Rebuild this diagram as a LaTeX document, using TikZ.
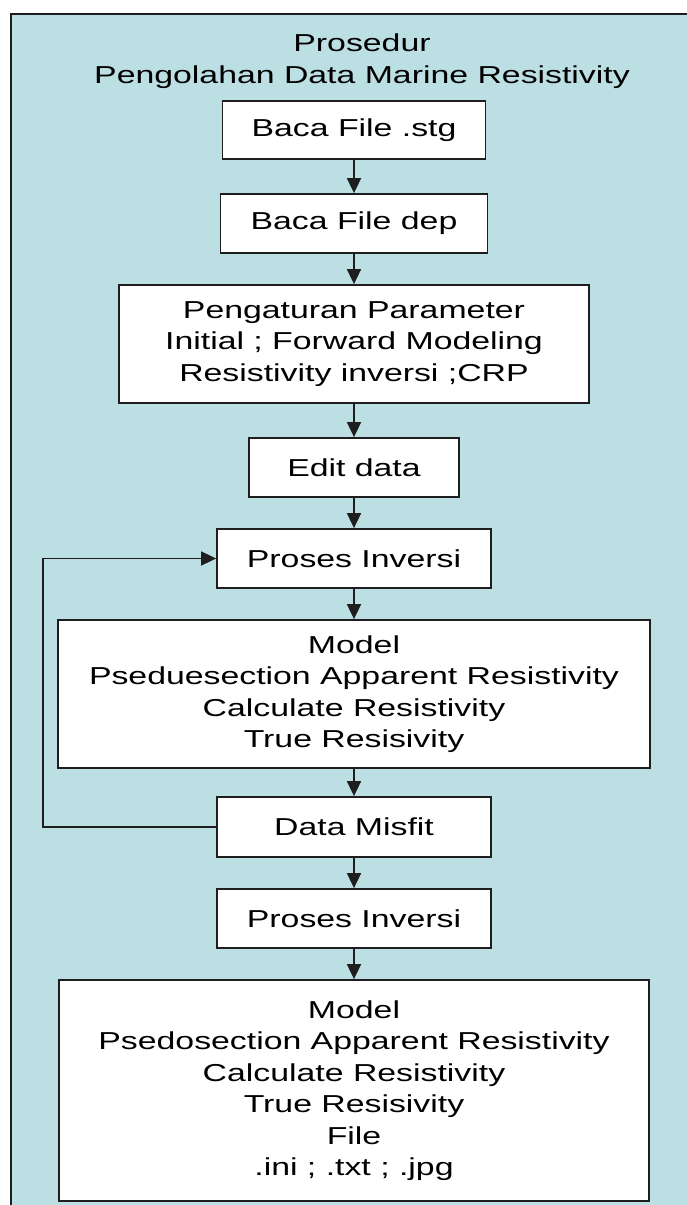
\documentclass[tikz,border=0pt]{standalone}
\usepackage{fontspec}
\usetikzlibrary{arrows.meta}
\newfontfamily\diagfont[FakeStretch=1.38]{Liberation Sans}
\definecolor{framebg}{HTML}{BCDFE3}
\definecolor{lineclr}{HTML}{1E1E1E}
\begin{document}
\begin{tikzpicture}[x=1pt,y=-1pt,
  stepbox/.style={draw=lineclr,line width=1.8pt,fill=white,rectangle,inner sep=0pt,
    align=center,font=\diagfont\fontsize{24.5}{31.5}\selectfont},
  flow/.style={draw=lineclr,line width=1.8pt,-{Triangle[width=14pt,length=15pt]}}]
\useasboundingbox (0,0) rectangle (686,1205);
\fill[white] (0,0) rectangle (686,1205);
\fill[framebg] (11,14) rectangle (690,1210);
\draw[lineclr,line width=1.5pt] (11,1210) -- (11,14) -- (690,14);
\node[align=center,font=\diagfont\fontsize{24.5}{32}\selectfont] (title) at (362,61)
  {Prosedur\\Pengolahan Data Marine Resistivity};
\node[stepbox,minimum width=263pt,minimum height=58pt] (b1) at (354,130) {Baca File .stg};
\node[stepbox,minimum width=267pt,minimum height=59pt] (b2) at (354,223.5) {Baca File dep};
\node[stepbox,minimum width=470pt,minimum height=118pt] (b3) at (354,344)
  {Pengaturan Parameter\\Initial ; Forward Modeling\\Resistivity inversi ;CRP};
\node[stepbox,minimum width=210pt,minimum height=59pt] (b4) at (354,467.5) {Edit data};
\node[stepbox,minimum width=274pt,minimum height=59pt] (b5) at (354,558.5) {Proses Inversi};
\node[stepbox,minimum width=592pt,minimum height=148pt] (b6) at (354,694)
  {Model\\Pseduesection Apparent Resistivity\\Calculate Resistivity\\True Resisivity};
\node[stepbox,minimum width=274pt,minimum height=60pt] (b7) at (354,827) {Data Misfit};
\node[stepbox,minimum width=274pt,minimum height=59pt] (b8) at (354,918.5) {Proses Inversi};
\node[stepbox,minimum width=590pt,minimum height=221pt] (b9) at (354,1090.5)
  {Model\\Psedosection Apparent Resistivity\\Calculate Resistivity\\True Resisivity\\File\\.ini ; .txt ; .jpg};
\coordinate (lb) at (43,827);
\coordinate (lt) at (43,558.5);
\draw[flow] (b1) -- (b2);
\draw[flow] (b2) -- (b3);
\draw[flow] (b3) -- (b4);
\draw[flow] (b4) -- (b5);
\draw[flow] (b5) -- (b6);
\draw[flow] (b6) -- (b7);
\draw[flow] (b7) -- (b8);
\draw[flow] (b8) -- (b9);
\draw[flow] (b7.west) -- (lb) -- (lt) -- (b5.west);
\end{tikzpicture}
\end{document}
